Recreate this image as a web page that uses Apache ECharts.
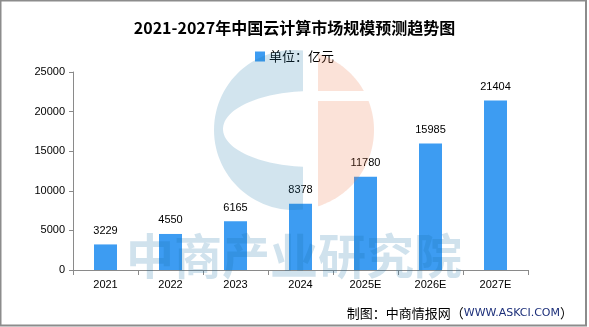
<!DOCTYPE html>
<html>
<head>
<meta charset="utf-8">
<script src="https://cdn.jsdelivr.net/npm/echarts@6/dist/echarts.min.js"></script>
<style>
  html, body { margin: 0; padding: 0; background: #fff; }
  #chart { width: 589px; height: 327px; }
</style>
</head>
<body>
<div id="chart"></div>
<script>
// China cloud computing market size, 2021-2027 (100 million yuan)
const categories = ['2021', '2022', '2023', '2024', '2025E', '2026E', '2027E'];
const marketSize = [3229, 4550, 6165, 8378, 11780, 15985, 21404];
const yMin = 0;
const yMax = 25000;
const yInterval = 5000;

const titleText = '2021-2027年中国云计算市场规模预测趋势图';
const seriesName = '单位：亿元';
const watermarkText = '中商产业研究院';

// Logo watermark: a circle split into a blue "C" and a pink half with a bar.
const logo = { cx: 294, cy: 130, r: 80, splitL: 303, splitR: 318, barTop: 91, barBottom: 101,
               ex: 312, ey: 129, erx: 89, ery: 38 };

function arcPoints(cx, cy, rx, ry, a0, a1, steps) {
  const pts = [];
  for (let i = 0; i <= steps; i++) {
    const a = (a0 + (a1 - a0) * i / steps) * Math.PI / 180;
    pts.push([cx + rx * Math.cos(a), cy - ry * Math.sin(a)]);
  }
  return pts;
}
const deg = v => v * 180 / Math.PI;

function bluePart() {
  const L = logo;
  const aTop = deg(Math.acos((L.splitL - L.cx) / L.r));
  const outer = arcPoints(L.cx, L.cy, L.r, L.r, aTop, 360 - aTop, 60);
  const tTop = deg(Math.acos((L.splitL - L.ex) / L.erx));
  const inner = arcPoints(L.ex, L.ey, L.erx, L.ery, 360 - tTop, tTop, 60);
  return outer.concat(inner);
}
function pinkUpper() {
  const L = logo;
  const a0 = deg(Math.acos((L.splitR - L.cx) / L.r));
  const a1 = deg(Math.asin((L.cy - L.barTop) / L.r));
  const pts = arcPoints(L.cx, L.cy, L.r, L.r, a0, a1, 40);
  pts.push([L.splitR, L.barTop]);
  return pts;
}
function pinkLower() {
  const L = logo;
  const a0 = deg(Math.asin((L.cy - L.barBottom) / L.r));
  const a1 = -deg(Math.acos((L.splitR - L.cx) / L.r));
  const pts = arcPoints(L.cx, L.cy, L.r, L.r, a0, a1, 60);
  pts.push([L.splitR, L.barBottom]);
  return pts;
}

const chart = echarts.init(document.getElementById('chart'), null, { renderer: 'canvas' });

const axisGray = '#8a8a8a';
const barBlue = '#3d9cf2';
const baseFont = '"Liberation Sans", "Noto Sans CJK SC", sans-serif';

chart.setOption({
  animation: false,
  backgroundColor: '#ffffff',
  title: {
    text: titleText,
    left: 'center',
    top: 15,
    textStyle: {
      fontFamily: '"Noto Sans CJK SC", sans-serif',
      fontSize: 16,
      fontWeight: 'bold',
      color: '#000'
    }
  },
  legend: {
    top: 45,
    left: 'center',
    itemWidth: 10,
    itemHeight: 10,
    itemGap: 4,
    icon: 'rect',
    textStyle: { fontFamily: '"Noto Sans CJK SC", sans-serif', fontSize: 13, color: '#000', padding: [0, 0, 0, -1] },
    data: [seriesName]
  },
  grid: { left: 73, right: 61, top: 72, bottom: 57, containLabel: false },
  xAxis: {
    type: 'category',
    data: categories,
    axisLine: { lineStyle: { color: axisGray, width: 1 } },
    axisTick: { show: true, length: 5, alignWithLabel: false, lineStyle: { color: axisGray } },
    axisLabel: { margin: 9, fontSize: 11, color: '#000', fontFamily: baseFont },
    splitLine: { show: false }
  },
  yAxis: {
    type: 'value',
    min: yMin,
    max: yMax,
    interval: yInterval,
    axisLine: { show: true, lineStyle: { color: axisGray, width: 1 } },
    axisTick: { show: true, length: 4, lineStyle: { color: axisGray } },
    axisLabel: { margin: 8, fontSize: 11, color: '#000', fontFamily: baseFont,
                 formatter: v => String(v) },
    splitLine: { show: false }
  },
  series: [{
    name: seriesName,
    type: 'bar',
    data: marketSize,
    barWidth: 23,
    itemStyle: { color: barBlue },
    label: {
      show: true,
      position: 'top',
      distance: 8,
      fontSize: 11,
      color: '#000',
      fontFamily: baseFont
    },
    z: 2
  }],
  graphic: [
    { type: 'polygon', z: 50, silent: true, shape: { points: bluePart() },
      style: { fill: 'rgba(30,120,170,0.2)' } },
    { type: 'polygon', z: 50, silent: true, shape: { points: pinkUpper() },
      style: { fill: 'rgba(235,110,60,0.2)' } },
    { type: 'polygon', z: 50, silent: true, shape: { points: pinkLower() },
      style: { fill: 'rgba(235,110,60,0.2)' } },
    { type: 'text', z: 50, silent: true, x: 294, y: 256,
      style: { text: watermarkText, fill: 'rgba(20,110,165,0.2)', fontSize: 48, fontWeight: 'bold',
               fontFamily: '"Noto Sans CJK SC", sans-serif', align: 'center', verticalAlign: 'middle' } },
    { type: 'text', z: 60, silent: true, x: 573, y: 313,
      style: {
        text: '{a|制图：中商情报网（}{b|WWW.ASKCI.COM}{a|）}',
        align: 'right', verticalAlign: 'middle',
        rich: {
          a: { fontSize: 13, fill: '#000', fontFamily: '"Noto Sans CJK SC", sans-serif' },
          b: { fontSize: 11, fill: '#1c2f7a', fontFamily: '"DejaVu Sans", sans-serif' }
        }
      } },
    { type: 'rect', z: 60, silent: true, shape: { x: 0.5, y: 0.5, width: 585.5, height: 325 },
      style: { fill: 'none', stroke: '#8c8c8c', lineWidth: 2 } }
  ]
});
</script>
</body>
</html>
